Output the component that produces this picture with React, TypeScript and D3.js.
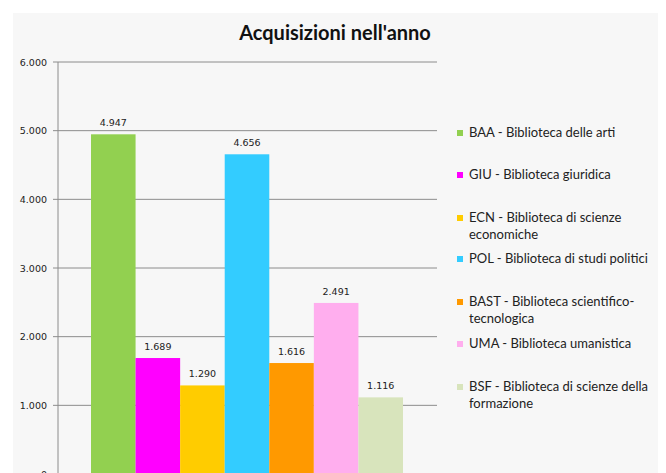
import React from "react";
import * as d3 from "d3";

const categories = ["BAA", "GIU", "ECN", "POL", "BAST", "UMA", "BSF"];
const values = [4947, 1689, 1290, 4656, 1616, 2491, 1116];
const colors = ["#92d050", "#ff00ff", "#ffcc00", "#33ccff", "#ff9900", "#ffaeee", "#d8e4bc"];
const legendLines = [
  ["BAA - Biblioteca delle arti"],
  ["GIU - Biblioteca giuridica"],
  ["ECN - Biblioteca di scienze", "economiche"],
  ["POL - Biblioteca di studi politici"],
  ["BAST - Biblioteca scientifico-", "tecnologica"],
  ["UMA - Biblioteca umanistica"],
  ["BSF - Biblioteca di scienze della", "formazione"],
];
const legendY = [133, 175, 218, 259, 302, 344, 387];
const yTicks = [0, 1000, 2000, 3000, 4000, 5000, 6000];

const fmt = (v: number) => d3.format(",")(v).replace(/,/g, ".");

export default function App() {
  const W = 666, H = 473;
  const x0 = 58, x1 = 437;
  const y = d3.scaleLinear().domain([0, 6000]).range([474, 62]);
  const x = d3.scaleBand().domain(categories).range([91, 403]).padding(0);
  const axisFont = "Tahoma, 'DejaVu Sans', Verdana, sans-serif";
  const textFont = "Lato, 'Open Sans', sans-serif";
  return (
    <svg width={W} height={H} style={{ position: "absolute", left: 0, top: 0 }}>
      <rect x={0} y={0} width={W} height={H} fill="#ffffff" />
      <rect x={13} y={13} width={645} height={H - 13} fill="#f7f7f7" />
      <text x={335} y={40} textAnchor="middle" fontFamily={textFont} fontWeight="bold" fontSize={20} fill="#111">
        Acquisizioni nell'anno
      </text>
      {yTicks.map((t) => (
        <g key={t}>
          <line x1={x0} x2={x1} y1={y(t)} y2={y(t)} stroke="#8c8c8c" strokeWidth={1} />
          <line x1={x0 - 5} x2={x0} y1={y(t)} y2={y(t)} stroke="#8c8c8c" strokeWidth={1} />
          <text x={47} y={y(t) + 3.5} textAnchor="end" fontFamily={axisFont} fontSize={9.5} fill="#222">
            {fmt(t)}
          </text>
        </g>
      ))}
      {categories.map((c, i) => (
        <g key={c}>
          <rect x={x(c)!} y={y(values[i])} width={x.bandwidth()} height={y(0) - y(values[i])} fill={colors[i]} />
          <text x={x(c)! + x.bandwidth() / 2} y={y(values[i]) - 8} textAnchor="middle" fontFamily={axisFont} fontSize={9.5} fill="#222">
            {fmt(values[i])}
          </text>
        </g>
      ))}
      <line x1={x0} x2={x0} y1={62} y2={H} stroke="#8c8c8c" strokeWidth={1} />
      {categories.map((c, i) => (
        <g key={"l" + c}>
          <rect x={457} y={legendY[i] - 3} width={6} height={6} fill={colors[i]} />
          {legendLines[i].map((ln, j) => (
            <text key={j} x={469} y={legendY[i] + 4 + j * 17} fontFamily={textFont} fontSize={13} fill="#222">
              {ln}
            </text>
          ))}
        </g>
      ))}
    </svg>
  );
}
